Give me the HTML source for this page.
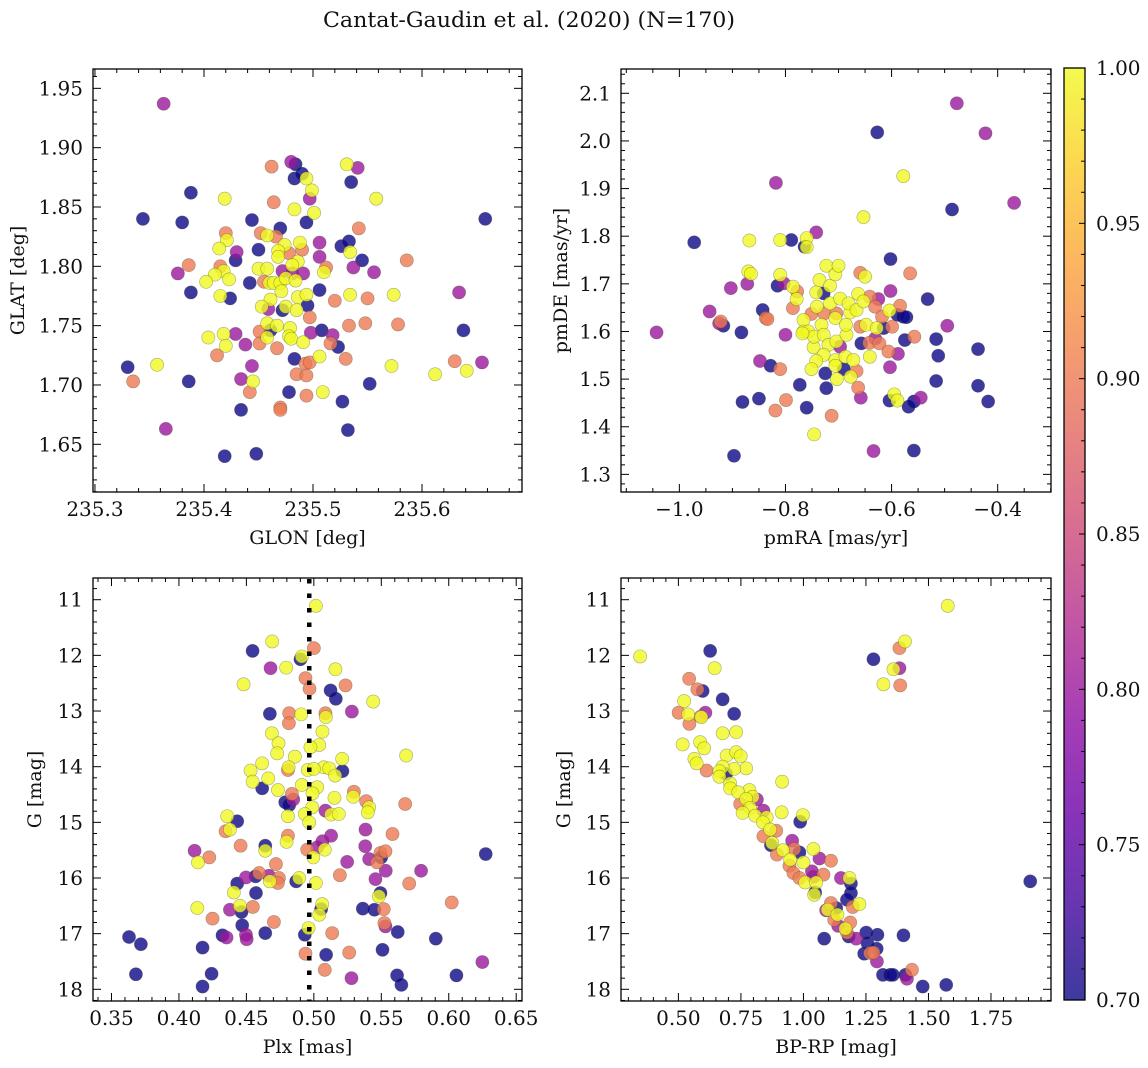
<!DOCTYPE html>
<html><head><meta charset="utf-8"><title>Cantat-Gaudin et al. (2020)</title>
<style>
html,body{margin:0;padding:0;background:#fff;}
svg{display:block;font-family:"DejaVu Serif","Liberation Serif",serif;}
</style></head>
<body>
<svg id="fig" width="1148" height="1068" viewBox="0 0 1148 1068" xmlns="http://www.w3.org/2000/svg">
<defs>
<linearGradient id="plasmaGrad" x1="0" y1="1" x2="0" y2="0">
<stop offset="0" stop-color="#0d0887"/><stop offset="0.1" stop-color="#41049d"/><stop offset="0.2" stop-color="#6a00a8"/><stop offset="0.3" stop-color="#8f0da4"/><stop offset="0.4" stop-color="#b12a90"/><stop offset="0.5" stop-color="#cc4778"/><stop offset="0.6" stop-color="#e16462"/><stop offset="0.7" stop-color="#f2844b"/><stop offset="0.8" stop-color="#fca636"/><stop offset="0.9" stop-color="#fcce25"/><stop offset="1" stop-color="#f0f921"/>
</linearGradient>
</defs>
<text x="529" y="27" font-size="21" text-anchor="middle" textLength="412" lengthAdjust="spacingAndGlyphs" fill="#111">Cantat-Gaudin et al. (2020) (N=170)</text>
</svg>
<script>
// ---------- Panel 1: GLON vs GLAT ----------
const p1Glon=[235.363,235.330,235.335,235.344,235.380,235.388,235.386,235.376,235.388,235.386,235.357,235.365,235.419,235.420,235.421,235.414,235.415,235.418,235.410,235.402,235.423,235.415,235.424,235.430,235.429,235.442,235.444,235.450,235.404,235.418,235.420,235.412,235.429,235.438,235.444,235.445,235.434,235.442,235.434,235.419,235.448,235.452,235.458,235.466,235.470,235.464,235.462,235.480,235.484,235.483,235.490,235.494,235.499,235.497,235.483,235.501,235.494,235.474,235.468,235.468,235.478,235.488,235.490,235.486,235.481,235.450,235.458,235.472,235.455,235.460,235.464,235.470,235.475,235.481,235.491,235.484,235.471,235.461,235.459,235.453,235.472,235.475,235.486,235.494,235.495,235.485,235.497,235.458,235.467,235.451,235.461,235.458,235.451,235.467,235.479,235.478,235.480,235.491,235.498,235.483,235.506,235.493,235.497,235.485,235.494,235.478,235.494,235.509,235.470,235.470,235.506,235.506,235.506,235.510,235.512,235.520,235.508,235.516,235.518,235.523,235.526,235.533,235.534,235.537,235.545,235.556,235.542,235.531,235.541,235.535,235.558,235.534,235.550,235.533,235.548,235.530,235.527,235.532,235.552,235.574,235.578,235.572,235.586,235.612,235.630,235.634,235.638,235.641,235.655,235.658];
const p1Glat=[1.937,1.715,1.703,1.840,1.837,1.862,1.801,1.794,1.778,1.703,1.717,1.663,1.857,1.828,1.822,1.815,1.800,1.796,1.793,1.787,1.789,1.775,1.773,1.812,1.805,1.786,1.839,1.814,1.740,1.743,1.733,1.725,1.743,1.734,1.716,1.703,1.705,1.694,1.679,1.640,1.642,1.828,1.826,1.825,1.832,1.854,1.884,1.888,1.886,1.874,1.878,1.874,1.864,1.857,1.848,1.845,1.837,1.818,1.813,1.808,1.811,1.820,1.814,1.804,1.801,1.798,1.798,1.796,1.787,1.786,1.786,1.786,1.790,1.794,1.794,1.788,1.779,1.772,1.764,1.766,1.763,1.766,1.774,1.776,1.767,1.763,1.757,1.752,1.750,1.745,1.746,1.740,1.735,1.731,1.748,1.741,1.739,1.736,1.744,1.722,1.724,1.718,1.719,1.709,1.708,1.694,1.691,1.694,1.681,1.679,1.780,1.808,1.820,1.795,1.799,1.771,1.746,1.735,1.742,1.732,1.817,1.821,1.812,1.799,1.805,1.795,1.832,1.886,1.883,1.871,1.857,1.776,1.773,1.750,1.752,1.722,1.686,1.662,1.701,1.776,1.751,1.716,1.805,1.709,1.720,1.778,1.746,1.712,1.719,1.840];
const p1Prob=[0.8,0.7,0.9,0.7,0.7,0.7,0.9,0.8,0.7,0.7,1,0.8,1,0.9,1,1,0.9,1,1,1,1,1,0.7,0.8,0.7,0.7,0.7,0.7,1,1,1,0.9,0.8,0.8,0.8,1,0.8,0.9,0.7,0.7,0.7,0.9,1,0.9,0.7,0.9,0.9,0.8,0.7,0.7,0.7,1,1,0.8,1,1,0.7,1,1,1,0.9,1,0.9,1,1,1,1,0.8,0.9,1,1,1,1,0.8,0.8,1,1,1,0.8,1,0.7,1,1,1,0.7,1,0.9,1,1,0.9,0.7,1,0.9,0.9,1,1,1,1,0.8,0.7,1,0.9,0.9,0.9,0.9,0.7,0.9,1,0.9,0.9,0.7,0.8,0.8,1,0.9,0.9,0.7,0.9,0.8,0.7,0.7,0.7,1,0.8,0.7,0.8,0.9,1,0.8,0.7,1,1,0.9,0.9,0.9,0.9,0.7,0.7,0.7,1,0.9,1,0.9,1,0.9,0.8,0.7,1,0.8,0.7];
const p1XTicks=[235.3,235.4,235.5,235.6];
const p1YTicks=[1.65,1.70,1.75,1.80,1.85,1.90,1.95];

// ---------- Panel 2: pmRA vs pmDE ----------
const p2PmRA=[-1.043,-0.972,-0.943,-0.922,-0.917,-0.925,-0.903,-0.897,-0.883,-0.881,-0.868,-0.870,-0.865,-0.872,-0.848,-0.850,-0.843,-0.837,-0.834,-0.828,-0.819,-0.818,-0.815,-0.810,-0.810,-0.803,-0.800,-0.810,-0.799,-0.789,-0.786,-0.778,-0.786,-0.779,-0.773,-0.766,-0.766,-0.760,-0.764,-0.760,-0.760,-0.742,-0.746,-0.751,-0.757,-0.747,-0.741,-0.742,-0.728,-0.736,-0.723,-0.716,-0.706,-0.700,-0.732,-0.746,-0.728,-0.727,-0.716,-0.704,-0.697,-0.706,-0.719,-0.728,-0.742,-0.751,-0.725,-0.723,-0.713,-0.704,-0.697,-0.706,-0.706,-0.703,-0.690,-0.687,-0.685,-0.686,-0.678,-0.681,-0.666,-0.663,-0.672,-0.677,-0.666,-0.663,-0.658,-0.659,-0.650,-0.653,-0.659,-0.653,-0.641,-0.625,-0.631,-0.641,-0.648,-0.657,-0.642,-0.631,-0.623,-0.628,-0.615,-0.606,-0.618,-0.604,-0.599,-0.634,-0.627,-0.603,-0.602,-0.602,-0.604,-0.595,-0.589,-0.589,-0.578,-0.572,-0.584,-0.588,-0.575,-0.557,-0.565,-0.578,-0.568,-0.558,-0.558,-0.545,-0.532,-0.516,-0.512,-0.516,-0.495,-0.486,-0.477,-0.437,-0.437,-0.423,-0.418,-0.369,-0.768];
const p2PmDE=[1.598,1.787,1.642,1.621,1.612,1.617,1.691,1.339,1.598,1.452,1.791,1.726,1.721,1.700,1.538,1.459,1.645,1.628,1.626,1.528,1.434,1.912,1.696,1.792,1.719,1.701,1.593,1.521,1.456,1.792,1.694,1.684,1.649,1.668,1.488,1.624,1.600,1.440,1.778,1.796,1.777,1.808,1.384,1.637,1.600,1.567,1.652,1.682,1.680,1.708,1.738,1.696,1.720,1.738,1.614,1.589,1.593,1.638,1.659,1.638,1.669,1.628,1.572,1.551,1.538,1.521,1.512,1.481,1.423,1.579,1.568,1.540,1.528,1.500,1.521,1.547,1.593,1.614,1.640,1.659,1.645,1.679,1.540,1.505,1.517,1.482,1.461,1.723,1.715,1.840,1.610,1.663,1.673,1.668,1.652,1.547,1.614,1.575,1.576,1.585,1.575,1.607,1.607,1.558,1.631,1.644,1.610,1.349,2.018,1.525,1.685,1.752,1.455,1.468,1.455,1.635,1.631,1.630,1.654,1.553,1.582,1.589,1.722,1.926,1.442,1.453,1.350,1.461,1.668,1.584,1.549,1.496,1.612,1.856,2.079,1.563,1.486,2.016,1.453,1.870,1.596];
const p2Prob=[0.8,0.7,0.8,0.9,0.7,0.8,0.8,0.7,0.7,0.7,1,1,1,0.8,0.8,0.7,0.7,0.9,0.9,0.7,0.9,0.8,0.7,1,1,0.8,0.8,0.9,0.9,0.7,1,0.9,0.9,1,0.7,1,1,0.7,0.7,1,1,0.8,1,0.9,1,1,1,1,0.7,1,1,1,1,1,1,1,1,0.9,1,0.9,1,1,1,1,1,1,0.7,0.7,0.9,1,0.8,1,1,1,0.7,1,1,1,1,1,1,1,1,1,0.9,0.9,0.8,0.9,1,1,0.9,1,0.9,0.8,0.9,1,1,0.7,0.9,0.8,0.9,1,0.7,0.9,0.9,1,0.9,0.8,0.7,0.8,0.8,0.7,0.7,1,1,0.7,0.7,0.7,0.9,0.8,0.7,0.9,0.9,1,0.7,0.7,0.7,0.8,0.7,0.7,0.7,0.7,0.8,0.7,0.8,0.7,0.7,0.8,0.7,0.8,1];
const p2XTicks=[-1.0,-0.8,-0.6,-0.4];
const p2YTicks=[1.3,1.4,1.5,1.6,1.7,1.8,1.9,2.0,2.1];

// ---------- Panel 3: Plx vs G ----------
const p3Plx=[0.5015,0.4691,0.4546,0.5000,0.4901,0.4911,0.4679,0.4795,0.5160,0.4938,0.4968,0.4479,0.5235,0.5124,0.5163,0.5440,0.4674,0.4817,0.4815,0.4906,0.5086,0.5089,0.5282,0.4689,0.5064,0.4738,0.5040,0.4975,0.4728,0.4859,0.5684,0.5210,0.4617,0.4808,0.4813,0.4531,0.4955,0.5074,0.5114,0.5000,0.5212,0.5158,0.4662,0.4546,0.4617,0.4911,0.5025,0.4734,0.4990,0.4837,0.5153,0.5297,0.5292,0.4788,0.4817,0.4847,0.5388,0.5677,0.4988,0.5410,0.5400,0.5086,0.5128,0.5185,0.4808,0.4933,0.4966,0.4358,0.4432,0.4346,0.4378,0.5383,0.5583,0.4808,0.4798,0.5128,0.5064,0.5025,0.4951,0.5081,0.4996,0.4457,0.4116,0.4225,0.4141,0.4640,0.4640,0.5381,0.5410,0.5494,0.5531,0.5499,0.5469,0.5247,0.6274,0.4719,0.4595,0.4568,0.4497,0.4667,0.4741,0.4674,0.4733,0.4891,0.4869,0.5015,0.5193,0.5457,0.5533,0.5795,0.5707,0.4432,0.4407,0.4571,0.5494,0.5482,0.6022,0.4452,0.4136,0.4548,0.4378,0.4464,0.5062,0.5054,0.5040,0.5363,0.5449,0.5518,0.4249,0.4704,0.4469,0.5523,0.5531,0.4961,0.5622,0.5136,0.4640,0.4933,0.4323,0.4353,0.4497,0.4502,0.3630,0.3718,0.4175,0.5904,0.5509,0.4938,0.5091,0.5262,0.6249,0.3681,0.4242,0.5081,0.5279,0.5617,0.5649,0.6057,0.4175];
const p3G=[11.11,11.75,11.92,11.87,12.07,12.02,12.23,12.22,12.25,12.41,12.60,12.52,12.54,12.63,12.78,12.83,13.05,13.04,13.22,13.06,13.04,13.11,13.01,13.40,13.37,13.58,13.61,13.65,13.76,13.82,13.80,13.86,13.94,14.06,14.01,14.07,14.06,14.01,14.03,14.04,14.08,14.16,14.21,14.27,14.39,14.33,14.37,14.42,14.48,14.49,14.56,14.45,14.54,14.64,14.69,14.59,14.62,14.67,14.73,14.73,14.82,14.79,14.86,14.85,14.89,14.85,15.00,14.89,14.98,15.16,15.13,15.13,15.21,15.24,15.35,15.24,15.34,15.45,15.49,15.49,15.63,15.42,15.51,15.63,15.72,15.42,15.51,15.43,15.66,15.55,15.52,15.63,15.72,15.71,15.57,15.75,15.91,15.97,15.99,15.96,16.00,16.06,16.09,16.00,16.06,16.09,15.95,16.02,15.87,15.87,16.10,16.10,16.26,16.27,16.27,16.33,16.44,16.50,16.54,16.52,16.57,16.61,16.47,16.56,16.66,16.55,16.57,16.56,16.73,16.79,16.85,16.81,16.87,16.90,16.97,16.99,16.99,17.02,17.03,17.07,17.02,17.10,17.06,17.19,17.25,17.09,17.29,17.36,17.38,17.34,17.51,17.73,17.72,17.65,17.80,17.75,17.92,17.75,17.95];
const p3Prob=[1,1,0.7,0.9,0.7,1,0.8,1,1,0.9,0.9,1,0.9,0.7,0.7,1,0.7,0.9,0.9,1,0.9,1,0.8,1,1,1,1,1,1,1,1,1,1,0.9,1,1,1,1,1,1,0.7,1,1,1,0.7,1,1,1,1,0.9,1,0.9,1,0.7,0.7,0.8,0.9,0.9,1,1,1,0.8,1,1,1,1,1,1,0.7,0.9,1,0.8,0.9,0.9,1,0.8,0.8,0.8,0.9,1,1,0.9,0.8,0.9,1,0.7,1,0.8,0.8,0.9,0.9,0.7,0.9,0.8,0.7,0.9,0.9,0.7,0.8,0.8,0.9,1,0.9,1,0.7,1,0.9,0.8,0.8,0.8,0.9,0.7,1,0.7,0.7,1,0.9,1,1,0.9,0.8,0.7,1,0.7,1,0.7,0.7,0.9,0.9,0.9,0.7,0.9,0.8,1,0.7,0.9,0.7,0.7,0.7,0.8,0.8,0.8,0.7,0.7,0.7,0.7,0.7,0.9,0.7,0.9,0.8,0.7,0.7,0.9,0.8,0.7,0.7,0.7,0.7];
const p3XTicks=[0.35,0.40,0.45,0.50,0.55,0.60,0.65];
const p3YTicks=[11,12,13,14,15,16,17,18];
const p3MeanPlx=[0.4966];

// ---------- Panel 4: BP-RP vs G ----------
const p4BpRp=[0.347,0.627,0.645,0.543,0.576,0.597,0.677,0.723,0.523,0.501,0.539,0.544,0.589,0.608,0.592,0.677,0.731,0.517,0.587,0.603,0.564,0.573,0.613,0.693,0.731,0.749,0.771,0.723,0.677,0.664,0.664,0.691,0.707,0.707,0.915,0.784,0.797,0.739,0.771,0.814,0.747,0.787,0.757,0.807,0.840,0.853,0.913,0.987,0.998,0.838,0.891,0.867,0.840,0.875,0.870,0.894,0.918,0.955,0.963,0.947,0.944,0.984,1.000,1.040,1.064,1.110,0.960,0.984,1.034,1.080,1.040,1.007,1.051,1.043,1.047,1.150,1.184,1.190,1.190,1.174,1.197,1.224,1.110,1.097,1.131,1.091,1.123,1.136,1.139,1.187,1.174,1.168,1.181,1.211,1.083,1.251,1.296,1.400,1.256,1.293,1.243,1.267,1.280,1.294,1.318,1.347,1.358,1.408,1.414,1.434,1.477,1.571,1.907,1.280,1.384,1.360,1.320,1.387,1.384,1.406,1.577];
const p4G=[12.02,11.92,12.23,12.42,12.61,12.64,12.79,13.05,12.82,13.03,13.06,13.23,13.10,13.03,13.11,13.40,13.38,13.60,13.56,13.67,13.86,13.94,14.07,13.80,13.74,13.81,14.03,14.04,14.00,14.08,14.18,14.13,14.30,14.39,14.27,14.42,14.54,14.46,14.58,14.59,14.67,14.74,14.83,14.88,14.79,14.91,14.82,14.99,14.87,15.00,15.15,15.13,15.25,15.37,15.41,15.58,15.50,15.33,15.48,15.67,15.78,15.54,15.72,15.48,15.65,15.69,15.91,16.00,15.88,15.94,15.98,16.08,16.08,16.30,16.26,16.00,16.00,16.10,16.27,16.39,16.52,16.47,16.45,16.57,16.54,16.58,16.75,16.66,16.86,16.80,16.98,16.91,17.05,17.09,17.09,16.98,17.02,17.03,17.17,17.27,17.36,17.35,17.34,17.50,17.74,17.74,17.74,17.74,17.81,17.65,17.95,17.92,16.06,12.07,12.23,12.25,12.52,12.54,11.87,11.75,11.11];
const p4Prob=[1,0.7,1,0.9,0.9,0.7,0.7,0.7,1,0.9,1,0.9,0.9,0.8,1,1,1,1,1,1,1,1,0.9,1,1,1,1,1,1,1,1,0.7,1,1,1,1,1,1,1,0.8,0.9,1,1,1,0.8,1,1,0.7,1,1,0.9,1,0.9,1,0.7,0.9,1,0.8,0.9,1,0.9,0.7,1,1,0.8,0.9,0.9,0.9,0.8,0.9,0.8,1,1,1,0.7,0.8,1,0.7,0.7,0.7,0.9,1,0.9,1,0.7,0.8,0.9,1,0.8,0.9,0.9,1,0.7,0.8,0.7,0.7,0.7,0.7,0.7,0.7,0.7,0.9,0.9,0.8,0.7,0.7,0.7,0.7,0.8,0.9,0.7,0.7,0.7,0.7,0.8,1,1,0.9,0.9,1,1];
const p4XTicks=[0.50,0.75,1.00,1.25,1.50,1.75];
const p4YTicks=[11,12,13,14,15,16,17,18];

// ---------- Colorbar ----------
const cbarTicks=[0.70,0.75,0.80,0.85,0.90,0.95,1.00];
const cbarRange=[0.70,1.00];

const NS='http://www.w3.org/2000/svg';
const svg=document.getElementById('fig');
function mk(tag,attrs,parent){const e=document.createElementNS(NS,tag);for(const k in attrs)e.setAttribute(k,attrs[k]);(parent||svg).appendChild(e);return e;}

const plasma=[[13,8,135],[65,4,157],[106,0,168],[143,13,164],[177,42,144],[204,71,120],[225,100,98],[242,132,75],[252,166,54],[252,206,37],[240,249,33]];
function cmap(v){
  let t=(v-cbarRange[0])/(cbarRange[1]-cbarRange[0]);t=Math.max(0,Math.min(1,t));
  const s=t*10,i=Math.min(9,Math.floor(s)),f=s-i,a=plasma[i],b=plasma[i+1];
  return 'rgb('+a.map((c,k)=>Math.round(c+(b[k]-c)*f)).join(',')+')';
}
const TF=20;

function panel(cfg){
  const {name,box,xr,yr,yinv,xt,yt,xminor,yminor,xfmt,yfmt,xlabel,ylabel,ylabelX,xs,ys,ps}=cfg;
  const g=mk('g',{});
  
  
  const X=v=>box.x0+(v-xr[0])/(xr[1]-xr[0])*(box.x1-box.x0);
  const Y=v=>yinv? box.y0+(v-yr[0])/(yr[1]-yr[0])*(box.y1-box.y0) : box.y1-(v-yr[0])/(yr[1]-yr[0])*(box.y1-box.y0);
  const clip='clip-'+name;
  const cp=mk('clipPath',{id:clip},g);
  mk('rect',{x:box.x0,y:box.y0,width:box.x1-box.x0,height:box.y1-box.y0},cp);
  const pts=mk('g',{'clip-path':'url(#'+clip+')'},g);
  
  
  const n=Math.min(xs.length,ys.length,ps.length);
  const idx=[];for(let i=0;i<n;i++)idx.push(i);
  idx.sort((a,b)=>ps[a]-ps[b]);
  idx.forEach(i=>{
    const c=mk('circle',{cx:X(xs[i]).toFixed(2),cy:Y(ys[i]).toFixed(2),r:6.6,fill:cmap(ps[i]),'fill-opacity':0.8,stroke:'#4a4a30','stroke-opacity':0.45,'stroke-width':0.6},pts);
    
    
  });
  if(cfg.vline){
    cfg.vline.forEach(v=>{
      const l=mk('line',{x1:X(v),x2:X(v),y1:box.y0,y2:box.y1,stroke:'#000','stroke-width':4.5,'stroke-dasharray':'4.5 10','stroke-dashoffset':-1},g);
      
      
    });
  }
  const tk=mk('g',{stroke:'#000','stroke-width':1},g);
  
  
  const eps=1e-9;
  const lo=Math.min(xr[0],xr[1]),hi=Math.max(xr[0],xr[1]);
  for(let k=Math.ceil(lo/xminor-eps);k*xminor<=hi+eps;k++){
    const v=k*xminor,px=X(v);
    const major=xt.some(t=>Math.abs(t-v)<xminor*0.1);
    const L=major?8:4;
    mk('line',{x1:px,x2:px,y1:box.y1,y2:box.y1-L},tk);
    mk('line',{x1:px,x2:px,y1:box.y0,y2:box.y0+L},tk);
  }
  const ylo=Math.min(yr[0],yr[1]),yhi=Math.max(yr[0],yr[1]);
  for(let k=Math.ceil(ylo/yminor-eps);k*yminor<=yhi+eps;k++){
    const v=k*yminor,py=Y(v);
    const major=yt.some(t=>Math.abs(t-v)<yminor*0.1);
    const L=major?8:4;
    mk('line',{x1:box.x0,x2:box.x0+L,y1:py,y2:py},tk);
    mk('line',{x1:box.x1,x2:box.x1-L,y1:py,y2:py},tk);
  }
  const fr=mk('rect',{x:box.x0,y:box.y0,width:box.x1-box.x0,height:box.y1-box.y0,fill:'none',stroke:'#000','stroke-width':1.3},g);
  
  
  xt.forEach(v=>{
    const t=mk('text',{x:X(v),y:box.y1+24,'font-size':TF,'text-anchor':'middle',fill:'#111'},g);
    t.textContent=xfmt(v);
    
    
  });
  yt.forEach(v=>{
    const t=mk('text',{x:box.x0-10,y:Y(v)+7,'font-size':TF,'text-anchor':'end',fill:'#111'},g);
    t.textContent=yfmt(v);
    
    
  });
  const xl=mk('text',{x:(box.x0+box.x1)/2,y:box.y1+52,'font-size':19,'text-anchor':'middle',fill:'#111'},g);
  xl.textContent=xlabel;
  
  
  const cy=(box.y0+box.y1)/2;
  const yl=mk('text',{x:ylabelX,y:cy,'font-size':19,'text-anchor':'middle',fill:'#111',transform:'rotate(-90 '+ylabelX+' '+cy+')'},g);
  yl.textContent=ylabel;
  
  
}
const minus=s=>s.replace('-','\u2212');

panel({name:'panel-glon-glat',box:{x0:93,x1:522,y0:69,y1:492},xr:[235.2982,235.6917],yr:[1.6098,1.9663],xt:p1XTicks,yt:p1YTicks,xminor:0.02,yminor:0.01,
  xfmt:v=>v.toFixed(1),yfmt:v=>v.toFixed(2),xlabel:'GLON [deg]',ylabel:'GLAT [deg]',ylabelX:24,xs:p1Glon,ys:p1Glat,ps:p1Prob});
panel({name:'panel-pm',box:{x0:621,x1:1051,y0:69,y1:492},xr:[-1.110,-0.2995],yr:[1.263,2.151],xt:p2XTicks,yt:p2YTicks,xminor:0.05,yminor:0.02,
  xfmt:v=>minus(v.toFixed(1)),yfmt:v=>v.toFixed(1),xlabel:'pmRA [mas/yr]',ylabel:'pmDE [mas/yr]',ylabelX:567,xs:p2PmRA,ys:p2PmDE,ps:p2Prob});
panel({name:'panel-plx-g',box:{x0:93,x1:522,y0:578,y1:1001},xr:[0.3363,0.6543],yr:[10.61,18.21],yinv:true,xt:p3XTicks,yt:p3YTicks,xminor:0.01,yminor:0.2,
  xfmt:v=>v.toFixed(2),yfmt:v=>String(v),xlabel:'Plx [mas]',ylabel:'G [mag]',ylabelX:41,xs:p3Plx,ys:p3G,ps:p3Prob,vline:p3MeanPlx});
panel({name:'panel-cmd',box:{x0:621,x1:1051,y0:578,y1:1001},xr:[0.2705,1.990],yr:[10.61,18.21],yinv:true,xt:p4XTicks,yt:p4YTicks,xminor:0.05,yminor:0.2,
  xfmt:v=>v.toFixed(2),yfmt:v=>String(v),xlabel:'BP-RP [mag]',ylabel:'G [mag]',ylabelX:570,xs:p4BpRp,ys:p4G,ps:p4Prob});

(function(){
  const cb={x0:1064,x1:1085,y0:68,y1:1000};
  const g=mk('g',{});
  
  
  mk('rect',{x:cb.x0,y:cb.y0,width:cb.x1-cb.x0,height:cb.y1-cb.y0,fill:'url(#plasmaGrad)','fill-opacity':0.8},g);
  const Y=v=>cb.y1-(v-cbarRange[0])/(cbarRange[1]-cbarRange[0])*(cb.y1-cb.y0);
  for(let k=70;k<=100;k++){
    const v=k/100,py=Y(v),major=k%5===0;
    mk('line',{x1:cb.x1,x2:cb.x1-(major?6:4),y1:py,y2:py,stroke:'#000','stroke-width':1},g);
  }
  mk('rect',{x:cb.x0,y:cb.y0,width:cb.x1-cb.x0,height:cb.y1-cb.y0,fill:'none',stroke:'#000','stroke-width':1.3},g);
  cbarTicks.forEach(v=>{
    const t=mk('text',{x:cb.x1+11,y:Y(v)+7,'font-size':TF,fill:'#111'},g);
    t.textContent=v.toFixed(2);
    
    
  });
})();
</script>
</body></html>
